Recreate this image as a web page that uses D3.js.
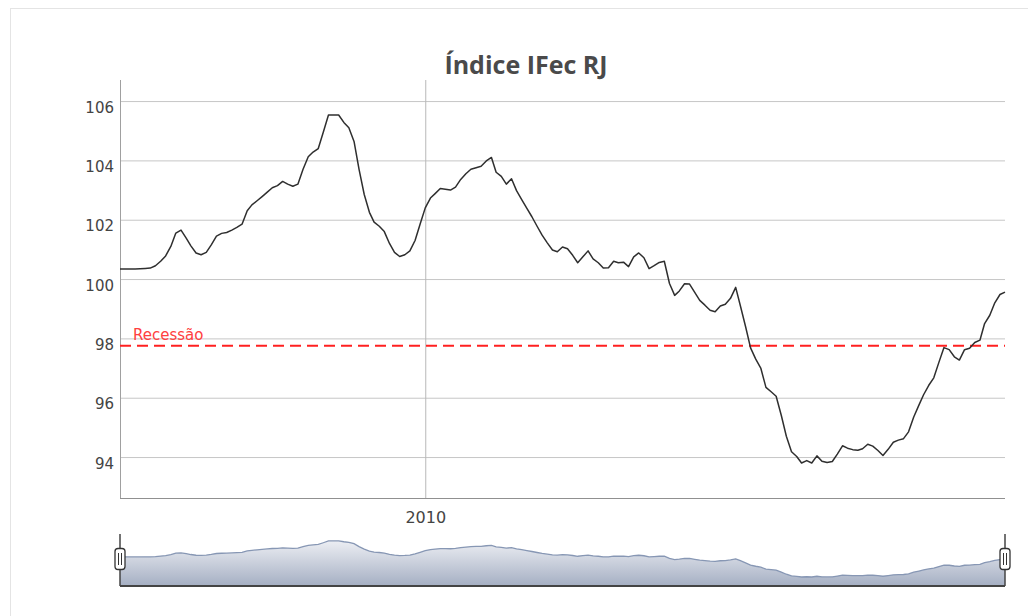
<!DOCTYPE html>
<html>
<head>
<meta charset="utf-8">
<script src="https://cdn.jsdelivr.net/npm/d3@7"></script>
<style>
  body { margin: 0; background: #fff; }
  svg text { font-family: "DejaVu Sans", Verdana, sans-serif; }
</style>
</head>
<body>
<script>
// monthly index values, jan 2005 onwards
var values = [
  100.34, 100.34, 100.34, 100.34, 100.35, 100.36, 100.37, 100.45, 100.6, 100.78,
  101.1, 101.55, 101.65, 101.38, 101.12, 100.88, 100.82, 100.9, 101.15, 101.45,
  101.54, 101.57, 101.65, 101.74, 101.85, 102.3, 102.5, 102.64, 102.78, 102.93,
  103.08, 103.15, 103.29, 103.2, 103.13, 103.2, 103.7, 104.12, 104.28, 104.4,
  104.95, 105.53, 105.53, 105.53, 105.28, 105.1, 104.64, 103.7, 102.85, 102.25,
  101.92, 101.78, 101.6, 101.2, 100.9, 100.76, 100.82, 100.95, 101.3, 101.85,
  102.4, 102.73, 102.88, 103.05, 103.03, 103.0, 103.1, 103.36, 103.55, 103.7,
  103.75, 103.8, 103.98, 104.1, 103.6, 103.46, 103.2, 103.38, 102.98, 102.68,
  102.38, 102.1, 101.78, 101.48, 101.22, 100.98, 100.92, 101.08, 101.02, 100.8,
  100.55, 100.75, 100.95, 100.68, 100.55, 100.37, 100.38, 100.6, 100.55, 100.57,
  100.42, 100.75, 100.88, 100.72, 100.35, 100.45, 100.56, 100.6, 99.85, 99.45,
  99.6, 99.84, 99.83, 99.55, 99.28, 99.12, 98.95, 98.9, 99.09, 99.15,
  99.35, 99.72, 99.1, 98.4, 97.68, 97.3, 97.0, 96.35, 96.2, 96.05,
  95.4, 94.7, 94.18, 94.02, 93.8, 93.88, 93.8, 94.04, 93.86, 93.82,
  93.85, 94.1, 94.38, 94.3, 94.25, 94.23, 94.28, 94.43, 94.37, 94.22,
  94.05, 94.26, 94.5, 94.57, 94.62, 94.85, 95.35, 95.75, 96.1, 96.42,
  96.67, 97.2, 97.69, 97.62, 97.38, 97.27, 97.62, 97.67, 97.86, 97.94,
  98.5, 98.78, 99.2, 99.48, 99.56
];
var startDate = new Date(2005, 0, 1);
var yTicks = [94, 96, 98, 100, 102, 104, 106];
var xTickYears = [2010];
var recessionLevel = 97.75;
var recessionLabel = "Recessão";
var chartTitle = "Índice IFec RJ";

var width = 1028,
    height = 616,
    plot = {left: 120, right: 1005, top: 80, bottom: 498},
    nav = {top: 534, bottom: 586};

var data = values.map(function(v, i) {
  return {date: d3.timeMonth.offset(startDate, i), value: v};
});

var x = d3.scaleTime()
    .domain(d3.extent(data, function(d) { return d.date; }))
    .range([plot.left, plot.right]);

var y = d3.scaleLinear()
    .domain([92.62, 106.71])
    .range([plot.bottom, plot.top]);

var yNav = d3.scaleLinear()
    .domain([90.87, 107.8])
    .range([nav.bottom, nav.top]);

var svg = d3.select("body").append("svg")
    .attr("width", width)
    .attr("height", height);

// outer frame
svg.append("rect")
    .attr("x", 10.5)
    .attr("y", 8.5)
    .attr("width", width + 20)
    .attr("height", height + 20)
    .attr("fill", "none")
    .attr("stroke", "#e4e4e4");

svg.append("text")
    .attr("x", 526)
    .attr("y", 74)
    .attr("text-anchor", "middle")
    .style("font-family", "'Open Sans', sans-serif")
    .style("font-weight", "bold")
    .style("font-size", "25px")
    .style("fill", "#4a4a4a")
    .text(chartTitle);

// y grid + labels
var yAxis = svg.append("g")
    .attr("transform", "translate(" + plot.left + ",0)")
    .call(d3.axisLeft(y)
      .tickValues(yTicks)
      .tickSize(-(plot.right - plot.left))
      .tickPadding(6));
yAxis.select(".domain").remove();
yAxis.selectAll(".tick line")
    .attr("stroke", "#c6c6c6");
yAxis.selectAll(".tick text")
    .attr("dy", null)
    .attr("y", 11)
    .style("font-size", "15px")
    .style("fill", "#444");

// x grid (only 2010)
var xAxis = svg.append("g")
    .attr("transform", "translate(0," + plot.bottom + ")")
    .call(d3.axisBottom(x)
      .tickValues(xTickYears.map(function(yr) { return new Date(yr, 0, 1); }))
      .tickSize(-(plot.bottom - plot.top))
      .tickFormat(d3.timeFormat("%Y")));
xAxis.select(".domain").remove();
xAxis.selectAll(".tick line")
    .attr("stroke", "#b8b8b8");
xAxis.selectAll(".tick text")
    .attr("dy", null)
    .attr("y", 25)
    .style("font-size", "16px")
    .style("fill", "#444");

// axis lines
svg.append("line")
    .attr("x1", plot.left + 0.5).attr("x2", plot.left + 0.5)
    .attr("y1", plot.top).attr("y2", plot.bottom)
    .attr("stroke", "#a0a0a0");
svg.append("line")
    .attr("x1", plot.left).attr("x2", plot.right)
    .attr("y1", plot.bottom + 0.5).attr("y2", plot.bottom + 0.5)
    .attr("stroke", "#909090");

// recession threshold
svg.append("line")
    .attr("x1", plot.left).attr("x2", plot.right)
    .attr("y1", y(recessionLevel)).attr("y2", y(recessionLevel))
    .attr("stroke", "#ff2020")
    .attr("stroke-width", 2)
    .attr("stroke-dasharray", "11,6");
svg.append("text")
    .attr("x", 133)
    .attr("y", y(recessionLevel) - 6)
    .style("font-size", "15px")
    .style("fill", "#ff4040")
    .text(recessionLabel);

var line = d3.line()
    .x(function(d) { return x(d.date); })
    .y(function(d) { return y(d.value); });

svg.append("path")
    .datum(data)
    .attr("d", line)
    .attr("fill", "none")
    .attr("stroke", "#2f2f2f")
    .attr("stroke-width", 1.5)
    .attr("stroke-linejoin", "round");

// navigator
var grad = svg.append("defs").append("linearGradient")
    .attr("id", "navFill")
    .attr("x1", 0).attr("y1", 0).attr("x2", 0).attr("y2", 1);
grad.append("stop").attr("offset", "0%").attr("stop-color", "#eceef3");
grad.append("stop").attr("offset", "100%").attr("stop-color", "#a5afc3");

var area = d3.area()
    .x(function(d) { return x(d.date); })
    .y0(nav.bottom)
    .y1(function(d) { return yNav(d.value); });

svg.append("path")
    .datum(data)
    .attr("d", area)
    .attr("fill", "url(#navFill)");

svg.append("path")
    .datum(data)
    .attr("d", d3.line()
      .x(function(d) { return x(d.date); })
      .y(function(d) { return yNav(d.value); }))
    .attr("fill", "none")
    .attr("stroke", "#8797b4")
    .attr("stroke-width", 1.3);

svg.append("line")
    .attr("x1", plot.left).attr("x2", plot.right)
    .attr("y1", nav.bottom).attr("y2", nav.bottom)
    .attr("stroke", "#444")
    .attr("stroke-width", 2);

[plot.left, plot.right].forEach(function(hx) {
  svg.append("line")
      .attr("x1", hx).attr("x2", hx)
      .attr("y1", nav.top).attr("y2", nav.bottom)
      .attr("stroke", "#444")
      .attr("stroke-width", 1.5);
  var h = svg.append("g").attr("transform", "translate(" + hx + ",559)");
  h.append("rect")
      .attr("x", -5).attr("y", -10.5)
      .attr("width", 10).attr("height", 21)
      .attr("rx", 3)
      .attr("fill", "#fff")
      .attr("stroke", "#333")
      .attr("stroke-width", 1.3);
  [-1.5, 1.5].forEach(function(dx) {
    h.append("line")
        .attr("x1", dx).attr("x2", dx)
        .attr("y1", -6).attr("y2", 6)
        .attr("stroke", "#333")
        .attr("stroke-width", 1);
  });
});
</script>
</body>
</html>
